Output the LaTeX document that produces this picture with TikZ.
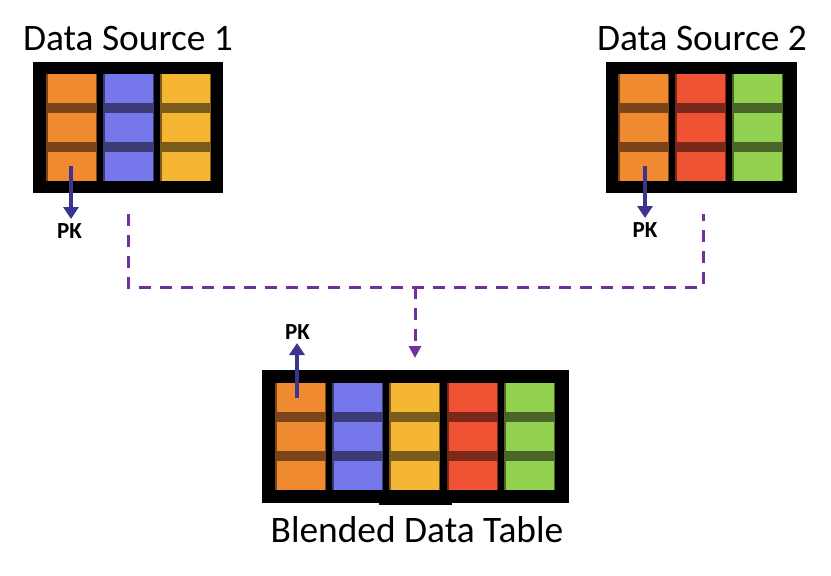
\documentclass[tikz,border=0pt]{standalone}
\usepackage{fontspec}
\setmainfont{Carlito}
\usetikzlibrary{arrows.meta}
\definecolor{orL}{HTML}{F08A30}\definecolor{orD}{HTML}{7B4519}
\definecolor{blL}{HTML}{7577EB}\definecolor{blD}{HTML}{3B3B75}
\definecolor{yeL}{HTML}{F5B733}\definecolor{yeD}{HTML}{7B5C1A}
\definecolor{reL}{HTML}{EF5333}\definecolor{reD}{HTML}{7A2819}
\definecolor{grL}{HTML}{92D050}\definecolor{grD}{HTML}{4B6428}
\definecolor{pkblue}{HTML}{3B3590}
\definecolor{linkpurple}{HTML}{7030A0}
\newcommand\dcol[4]{% x, ytop, light, dark
  \fill[#4] (#1,#2) rectangle ++(51,107);
  \fill[#3] (#1+1.5,#2) rectangle ++(48,29);
  \fill[#3] (#1+1.5,#2+39) rectangle ++(48,29);
  \fill[#3] (#1+1.5,#2+78) rectangle ++(48,29);
}
\tikzset{
  tablebox/.style={draw=none,fill=black,inner sep=0pt,minimum height=131pt},
  title/.style={font=\fontsize{37.4}{42}\selectfont,anchor=base,inner sep=0pt},
  pklabel/.style={font=\bfseries\fontsize{23}{26}\selectfont,anchor=base,inner sep=0pt},
  pkarrow/.style={draw=pkblue,line width=4pt,-{Triangle[width=15pt,length=12pt]}},
  link/.style={draw=linkpurple,line width=3pt,dash pattern=on 12pt off 9pt},
  linkarrow/.style={link,-{Triangle[width=12pt,length=12pt]}}
}
\begin{document}
\begin{tikzpicture}[x=1pt,y=-1pt]
\useasboundingbox (0,0) rectangle (831,576);
% boxes
\node[tablebox,minimum width=190pt] (ds1) at (128,127.5) {};
\node[tablebox,minimum width=191pt] (ds2) at (701.5,127.5) {};
\node[tablebox,minimum width=307pt,minimum height=133pt] (blend) at (415.5,436.5) {};
\fill[black] (379,500) rectangle (452,505);
% columns
\dcol{46}{74}{orL}{orD}
\dcol{103}{74}{blL}{blD}
\dcol{160}{74}{yeL}{yeD}
\dcol{618}{74}{orL}{orD}
\dcol{675}{74}{reL}{reD}
\dcol{732}{74}{grL}{grD}
\dcol{275}{383}{orL}{orD}
\dcol{332}{383}{blL}{blD}
\dcol{389}{383}{yeL}{yeD}
\dcol{447}{383}{reL}{reD}
\dcol{504}{383}{grL}{grD}
% titles
\node[title] (t1) at (128,50) {Data Source 1};
\node[title] (t2) at (702,50) {Data Source 2};
\node[title] (t3) at (417,542) {Blended Data Table};
% PK labels
\node[pklabel] (pk1) at (69.5,238) {PK};
\node[pklabel] (pk2) at (645,237) {PK};
\node[pklabel] (pk3) at (297.5,339) {PK};
% PK arrows
\coordinate (pk1s) at (71,166);
\coordinate (pk2s) at (645,166);
\coordinate (pk3s) at (297,398);
\draw[pkarrow] (pk1s) -- (71,219);
\draw[pkarrow] (pk2s) -- (645,218);
\draw[pkarrow] (pk3s) -- (297,343);
% dashed link
\coordinate (l1) at (128,214);
\coordinate (l2) at (703,214);
\coordinate (lm) at (415,287);
\coordinate (le) at (415,358);
\draw[link] (l1) |- (lm) -| (l2);
\draw[linkarrow] (lm) -- (le);
\end{tikzpicture}
\end{document}
